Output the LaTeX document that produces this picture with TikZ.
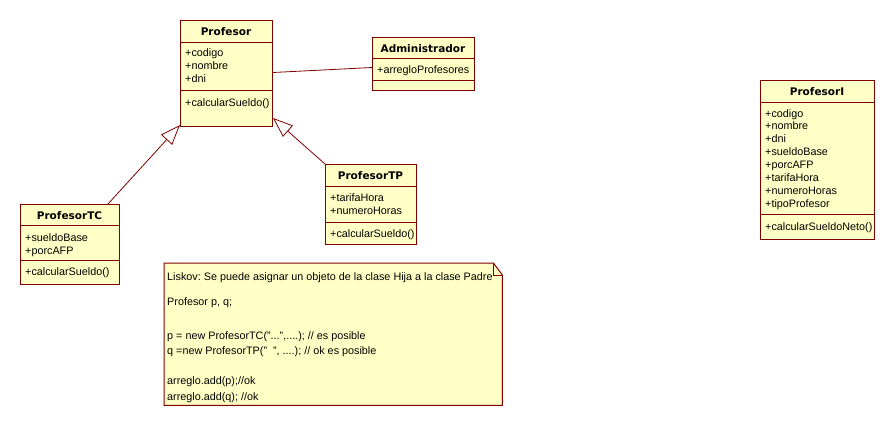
\documentclass[tikz,border=0pt]{standalone}
\usepackage{fontspec}
\setmainfont{Liberation Sans}
\newfontfamily\headfont{DejaVu Sans}
\usetikzlibrary{arrows.meta,calc}
\definecolor{umlline}{RGB}{128,0,0}
\definecolor{umlfill}{RGB}{255,255,198}
\frenchspacing
\begin{document}
\begin{tikzpicture}[x=1pt,y=-1pt,
  classbox/.style={draw=umlline,fill=umlfill,line width=1pt,inner sep=0pt,anchor=north west},
  divider/.style={draw=umlline,line width=1pt},
  member/.style={anchor=base west,inner sep=0pt,font=\fontsize{10.8}{13}\selectfont},
  title/.style={anchor=base,inner sep=0pt,font=\headfont\bfseries\fontsize{10.5}{13}\selectfont},
  gen/.style={draw=umlline,line width=0.8pt,-{Triangle[open,length=20pt,width=15pt]}},
  assoc/.style={draw=umlline,line width=0.8pt}]
\useasboundingbox[fill=white] (0,0) rectangle (896,426);

% ---- class Profesor ----
\node[classbox,minimum width=92pt,minimum height=106pt] (profesor) at (180,20) {};
\draw[divider] ($(profesor.north west)+(0,22)$) -- ($(profesor.north east)+(0,22)$);
\draw[divider] ($(profesor.north west)+(0,70)$) -- ($(profesor.north east)+(0,70)$);
\node[title] (profesorT) at (226,35) {Profesor};
\node[member] (profesorA1) at (185,56) {+codigo};
\node[member] (profesorA2) at (185,69) {+nombre};
\node[member] (profesorA3) at (185,82) {+dni};
\node[member] (profesorM1) at (185,106) {+calcularSueldo()};

% ---- class Administrador ----
\node[classbox,minimum width=102pt,minimum height=53pt] (admin) at (372,37) {};
\draw[divider] ($(admin.north west)+(0,21)$) -- ($(admin.north east)+(0,21)$);
\draw[divider] ($(admin.north west)+(0,43)$) -- ($(admin.north east)+(0,43)$);
\node[title] (adminT) at (423,52) {Administrador};
\node[member] (adminA1) at (377,73) {+arregloProfesores};

% ---- class ProfesorTC ----
\node[classbox,minimum width=99pt,minimum height=80pt] (tc) at (20,204) {};
\draw[divider] ($(tc.north west)+(0,21)$) -- ($(tc.north east)+(0,21)$);
\draw[divider] ($(tc.north west)+(0,56)$) -- ($(tc.north east)+(0,56)$);
\node[title] (tcT) at (69.5,219) {ProfesorTC};
\node[member] (tcA1) at (25,241) {+sueldoBase};
\node[member] (tcA2) at (25,254) {+porcAFP};
\node[member] (tcM1) at (25,275) {+calcularSueldo()};

% ---- class ProfesorTP ----
\node[classbox,minimum width=91pt,minimum height=80pt] (tp) at (325,164) {};
\draw[divider] ($(tp.north west)+(0,22)$) -- ($(tp.north east)+(0,22)$);
\draw[divider] ($(tp.north west)+(0,58)$) -- ($(tp.north east)+(0,58)$);
\node[title] (tpT) at (370.5,179.5) {ProfesorTP};
\node[member] (tpA1) at (330,201) {+tarifaHora};
\node[member] (tpA2) at (330,214) {+numeroHoras};
\node[member] (tpM1) at (330,237) {+calcularSueldo()};

% ---- class ProfesorI ----
\node[classbox,minimum width=114pt,minimum height=159pt] (pi) at (760,80) {};
\draw[divider] ($(pi.north west)+(0,22)$) -- ($(pi.north east)+(0,22)$);
\draw[divider] ($(pi.north west)+(0,134)$) -- ($(pi.north east)+(0,134)$);
\node[title] (piT) at (817,95) {ProfesorI};
\node[member] (piA1) at (765,117) {+codigo};
\node[member] (piA2) at (765,129.9) {+nombre};
\node[member] (piA3) at (765,142.7) {+dni};
\node[member] (piA4) at (765,155.6) {+sueldoBase};
\node[member] (piA5) at (765,168.4) {+porcAFP};
\node[member] (piA6) at (765,181.3) {+tarifaHora};
\node[member] (piA7) at (765,194.1) {+numeroHoras};
\node[member] (piA8) at (765,207) {+tipoProfesor};
\node[member] (piM1) at (765,230) {+calcularSueldoNeto()};

% ---- note ----
\node[inner sep=0pt,minimum width=338pt,minimum height=142pt,anchor=north west] (note) at (164,263) {};
\draw[draw=umlline,fill=umlfill,line width=1pt]
  (note.north west) -- ($(note.north east)+(-9,0)$) -- ($(note.north east)+(0,12)$)
  -- (note.south east) -- (note.south west) -- cycle;
\draw[draw=umlline,line width=0.8pt]
  ($(note.north east)+(-9,0)$) -- ($(note.north east)+(-9,12)$) -- ($(note.north east)+(0,12)$);
\node[member] (noteL1) at (167,280) {Liskov: Se puede asignar un objeto de la clase Hija a la clase Padre};
\node[member] (noteL2) at (167,305) {Profesor p, q;};
\node[member] (noteL3) at (167,339) {p = new ProfesorTC("...",....); // es posible};
\node[member] (noteL4) at (167,354) {q =new ProfesorTP("\ \ ", ....); // ok es posible};
\node[member] (noteL5) at (167,384) {arreglo.add(p);//ok};
\node[member] (noteL6) at (167,400) {arreglo.add(q); //ok};

% ---- connectors ----
\draw[assoc] ([yshift=1pt]profesor.east) -- ([yshift=-3.5pt]admin.west);
\draw[gen] ([xshift=-12pt]tc.north east) -- ([yshift=2pt]profesor.south west);
\draw[gen] (tp.north west) -- ([yshift=9pt]profesor.south east);
\end{tikzpicture}
\end{document}
